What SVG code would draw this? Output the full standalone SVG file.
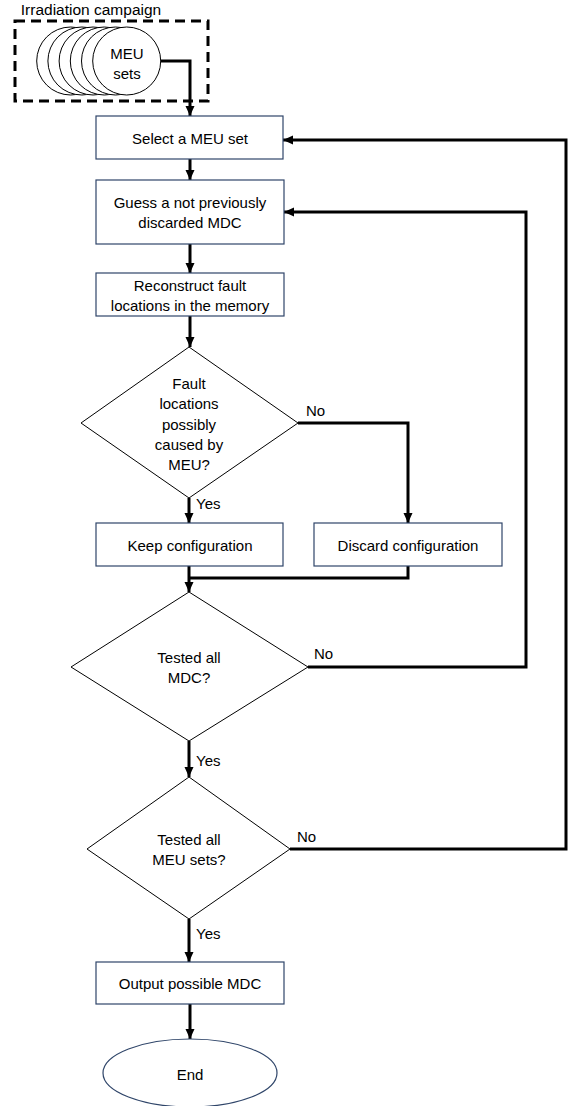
<svg xmlns="http://www.w3.org/2000/svg" width="569" height="1106" viewBox="0 0 569 1106">
<style>
text{font-family:"Liberation Sans",Arial,sans-serif;font-size:15px;fill:#000;text-anchor:middle;dominant-baseline:central}
.lbl{text-anchor:start}
.box{fill:#fff;stroke:#2f4569;stroke-width:1.2}
.dia{fill:#fff;stroke:#000;stroke-width:1}
.circ{fill:#fff;stroke:#000;stroke-width:1}
.con{fill:none;stroke:#000;stroke-width:3}
</style>
<defs>
<marker id="ah" markerUnits="userSpaceOnUse" markerWidth="10" markerHeight="10" viewBox="0 0 10 10" refX="10" refY="5" orient="auto">
<path d="M0,0.5 L10,5 L0,9.5 Z" fill="#000"/>
</marker>
</defs>
<rect width="569" height="1106" fill="#fff"/>
<g id="campaign">
<rect x="15" y="21" width="193" height="80" fill="none" stroke="#000" stroke-width="3" stroke-dasharray="10,6"/>
<text x="91" y="9" style="font-size:15.5px">Irradiation campaign</text>
<circle class="circ" cx="70.7" cy="61" r="34"/>
<circle class="circ" cx="81.9" cy="61" r="34"/>
<circle class="circ" cx="93.1" cy="61" r="34"/>
<circle class="circ" cx="104.3" cy="61" r="34"/>
<circle class="circ" cx="115.5" cy="61" r="34"/>
<circle class="circ" cx="126.7" cy="61" r="34"/>
<text x="127" y="53">MEU</text>
<text x="127" y="73">sets</text>
</g>
<g id="connectors">
<path class="con" d="M161,61 H190 V116" marker-end="url(#ah)"/>
<path class="con" d="M190,159 V180" marker-end="url(#ah)"/>
<path class="con" d="M190,244 V273" marker-end="url(#ah)"/>
<path class="con" d="M190,316 V347" marker-end="url(#ah)"/>
<path class="con" d="M189,498 V523" marker-end="url(#ah)"/>
<path class="con" d="M298,423 H408 V523" marker-end="url(#ah)"/>
<path class="con" d="M189,566 V592" marker-end="url(#ah)"/>
<path class="con" d="M408,566 V578 H189"/>
<path class="con" d="M308,667 H526 V212 H284" marker-end="url(#ah)"/>
<path class="con" d="M189,741 V777" marker-end="url(#ah)"/>
<path class="con" d="M290,849 H566 V140 H283" marker-end="url(#ah)"/>
<path class="con" d="M189,919 V962" marker-end="url(#ah)"/>
<path class="con" d="M190,1004 V1039" marker-end="url(#ah)"/>
<text class="lbl" x="306" y="410">No</text>
<text class="lbl" x="196" y="503">Yes</text>
<text class="lbl" x="314" y="653">No</text>
<text class="lbl" x="196" y="760">Yes</text>
<text class="lbl" x="297" y="836">No</text>
<text class="lbl" x="196" y="933">Yes</text>
</g>
<g id="select">
<rect class="box" x="96" y="116" width="187" height="43"/>
<text x="190" y="138">Select a MEU set</text>
</g>
<g id="guess">
<rect class="box" x="96" y="180" width="188" height="64"/>
<text x="190" y="202">Guess a not previously</text>
<text x="190" y="222">discarded MDC</text>
</g>
<g id="reconstruct">
<rect class="box" x="96" y="273" width="188" height="43"/>
<text x="190" y="285">Reconstruct fault</text>
<text x="190" y="305">locations in the memory</text>
</g>
<g id="decision1">
<polygon class="dia" points="189,347 298,423 189,498 81,423"/>
<text x="189" y="383">Fault</text>
<text x="189" y="403.5">locations</text>
<text x="189" y="424">possibly</text>
<text x="189" y="444">caused by</text>
<text x="189" y="464">MEU?</text>
</g>
<g id="keep">
<rect class="box" x="96" y="523" width="187" height="43"/>
<text x="190" y="545">Keep configuration</text>
</g>
<g id="discard">
<rect class="box" x="314" y="523" width="188" height="43"/>
<text x="408" y="545">Discard configuration</text>
</g>
<g id="decision2">
<polygon class="dia" points="189,592 308,667 189,741 71,667"/>
<text x="189" y="657">Tested all</text>
<text x="189" y="677">MDC?</text>
</g>
<g id="decision3">
<polygon class="dia" points="189,777 290,849 189,919 87,849"/>
<text x="189" y="839">Tested all</text>
<text x="189" y="859">MEU sets?</text>
</g>
<g id="output">
<rect class="box" x="96" y="962" width="188" height="42"/>
<text x="190" y="983">Output possible MDC</text>
</g>
<g id="end">
<ellipse class="box" cx="190" cy="1073" rx="87" ry="34"/>
<text x="190" y="1074">End</text>
</g>
</svg>
